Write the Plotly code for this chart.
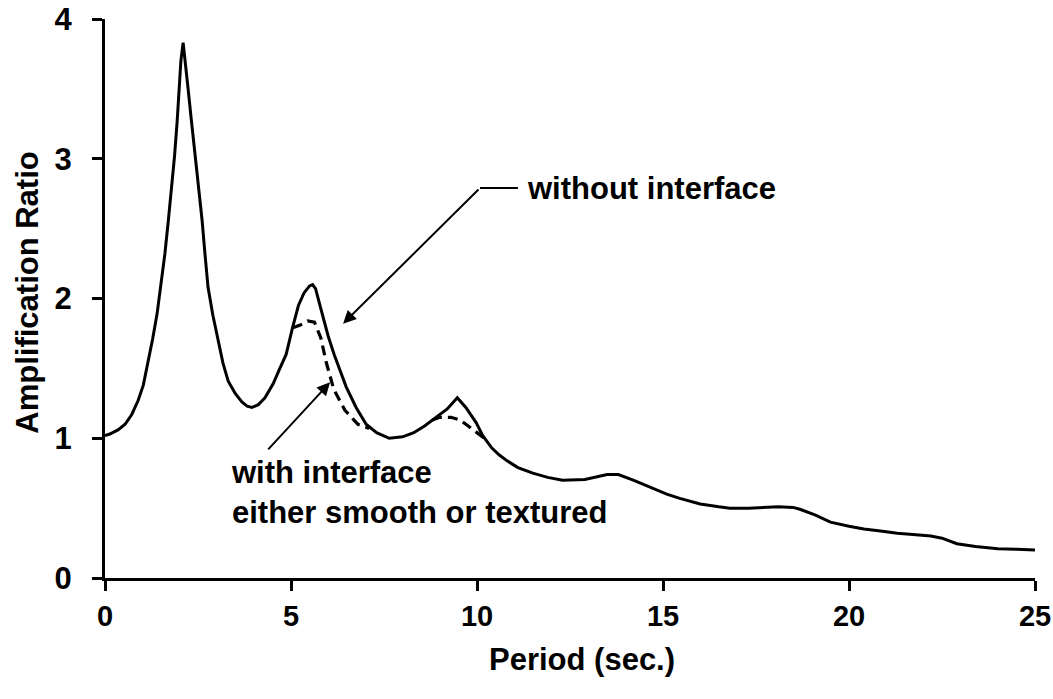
import plotly.graph_objects as go

# Solid curve: without interface
period_solid = [0.0, 0.13, 0.35, 0.54, 0.72, 0.89, 1.03, 1.16, 1.28, 1.4, 1.5, 1.61, 1.7, 1.8, 1.87,
                1.94, 2.0, 2.04, 2.1, 2.16, 2.23, 2.32, 2.42, 2.51, 2.61, 2.69, 2.77, 2.9, 3.04,
                3.17, 3.31, 3.5, 3.68, 3.82, 3.95, 4.12, 4.3, 4.52, 4.7, 4.87, 5.04, 5.2, 5.35,
                5.5, 5.58, 5.66, 5.8, 6.0, 6.16, 6.32, 6.48, 6.75, 7.02, 7.3, 7.64, 8.0, 8.3,
                8.6, 8.9, 9.2, 9.47, 9.7, 9.98, 10.15, 10.4, 10.6, 10.8, 11.1, 11.5, 11.9, 12.3,
                12.9, 13.5, 13.8, 14.2, 14.5, 14.8, 15.1, 15.45, 16.0, 16.5, 16.8, 17.3, 17.8,
                18.1, 18.5, 18.7, 19.1, 19.5, 20.0, 20.4, 20.9, 21.3, 21.8, 22.2, 22.5, 22.9,
                23.4, 24.0, 24.5, 25.0]
amp_solid = [1.02, 1.03, 1.06, 1.10, 1.17, 1.27, 1.38, 1.54, 1.71, 1.89, 2.09, 2.32, 2.55, 2.80, 3.02,
             3.27, 3.53, 3.70, 3.83, 3.70, 3.51, 3.28, 3.04, 2.80, 2.56, 2.31, 2.08, 1.88, 1.70,
             1.54, 1.41, 1.32, 1.26, 1.23, 1.22, 1.24, 1.29, 1.39, 1.50, 1.60, 1.79, 1.95, 2.04,
             2.09, 2.10, 2.07, 1.93, 1.73, 1.60, 1.48, 1.37, 1.22, 1.10, 1.04, 1.00, 1.01, 1.04,
             1.09, 1.15, 1.21, 1.29, 1.22, 1.11, 1.02, 0.93, 0.88, 0.84, 0.79, 0.75, 0.72, 0.70,
             0.705, 0.74, 0.74, 0.70, 0.665, 0.63, 0.60, 0.57, 0.53, 0.51, 0.50, 0.50, 0.505,
             0.51, 0.505, 0.49, 0.45, 0.40, 0.37, 0.35, 0.335, 0.32, 0.31, 0.30, 0.285, 0.245,
             0.225, 0.21, 0.205, 0.20]

# Dashed curve segments: with interface
period_dash_a = [5.05, 5.25, 5.45, 5.63, 5.8, 5.95, 6.15, 6.45, 6.8, 7.1]
amp_dash_a = [1.79, 1.81, 1.84, 1.83, 1.72, 1.54, 1.35, 1.20, 1.10, 1.07]
period_dash_b = [8.8, 9.0, 9.3, 9.55, 9.8, 10.0, 10.2]
amp_dash_b = [1.13, 1.15, 1.15, 1.13, 1.08, 1.04, 1.00]

x_ticks = [0, 5, 10, 15, 20, 25]
y_ticks = [0, 1, 2, 3, 4]

FONT = "Liberation Sans, Arial, Helvetica, sans-serif"

fig = go.Figure()
fig.add_trace(go.Scatter(x=period_solid, y=amp_solid, mode="lines",
                         line=dict(color="black", width=3), showlegend=False))
fig.add_trace(go.Scatter(x=period_dash_a, y=amp_dash_a, mode="lines",
                         line=dict(color="black", width=3.2, dash="10px,6px"), showlegend=False))
fig.add_trace(go.Scatter(x=period_dash_b, y=amp_dash_b, mode="lines",
                         line=dict(color="black", width=3.2, dash="10px,6px"), showlegend=False))

fig.update_layout(
    width=1053, height=699,
    margin=dict(l=105, r=18, t=19, b=121, autoexpand=False),
    paper_bgcolor="white", plot_bgcolor="white",
    font=dict(family=FONT, color="black", size=26, weight="bold"),
    xaxis=dict(range=[0, 25], tickvals=x_ticks, ticks="outside", ticklen=10, tickwidth=3,
               tickcolor="black", showline=True, linewidth=3, linecolor="black",
               showgrid=False, zeroline=False, tickfont=dict(size=29, weight="bold"),
               ticklabelstandoff=0, automargin=False),
    yaxis=dict(range=[0, 4], tickvals=y_ticks, ticks="outside", ticklen=10, tickwidth=3,
               tickcolor="black", showline=True, linewidth=3, linecolor="black",
               showgrid=False, zeroline=False, tickfont=dict(size=31, weight="bold"),
               ticklabelstandoff=14, automargin=False),
)

# Axis titles as annotations
fig.add_annotation(text="Period (sec.)", xref="paper", yref="paper", x=0.513, y=-0.146,
                   xanchor="center", yanchor="middle", showarrow=False,
                   font=dict(size=31, weight="bold"))
fig.add_annotation(text="Amplification Ratio", xref="paper", yref="paper", x=-0.083, y=0.51,
                   xanchor="center", yanchor="middle", showarrow=False, textangle=-90,
                   font=dict(size=31, weight="bold"))

# "without interface" label with elbow leader
fig.add_shape(type="line", x0=10.08, y0=2.79, x1=11.1, y1=2.79, xref="x", yref="y",
              line=dict(color="black", width=2))
fig.add_annotation(x=6.4, y=1.82, ax=10.08, ay=2.79, axref="x", ayref="y", xref="x", yref="y",
                   text="", showarrow=True, arrowhead=2, arrowsize=1.3, arrowwidth=2,
                   arrowcolor="black")
fig.add_annotation(text="without interface", x=11.3, y=2.79, xref="x", yref="y",
                   xanchor="left", yanchor="middle", showarrow=False,
                   font=dict(size=31, weight="bold"))

# "with interface" label
fig.add_annotation(x=6.05, y=1.4, ax=4.35, ay=0.91, axref="x", ayref="y", xref="x", yref="y",
                   text="", showarrow=True, arrowhead=2, arrowsize=1.3, arrowwidth=2,
                   arrowcolor="black")
fig.add_annotation(text="with interface<br>either smooth or textured", x=3.33, y=0.61,
                   xref="x", yref="y", xanchor="left", yanchor="middle", align="left",
                   showarrow=False, font=dict(size=31, weight="bold"))

fig.write_html("out.html", post_script="document.body.style.margin='0px';",
               config={"displayModeBar": False})
